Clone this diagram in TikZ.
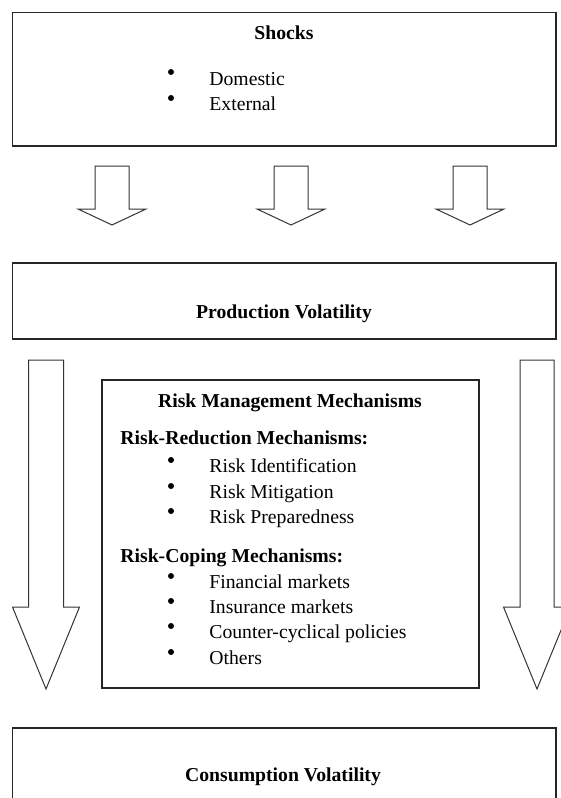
\documentclass[tikz,border=0pt]{standalone}
\usepackage{fontspec}
\setmainfont{Liberation Serif}
\begin{document}
\begin{tikzpicture}[x=0.5pt,y=-0.5pt,
  box/.style={draw=black!85, line width=0.8pt, inner sep=0pt},
  arrowline/.style={draw=black!80, line width=0.5pt, line join=miter},
  txt/.style={inner sep=0pt, yshift=-1pt, font=\fontsize{9.85}{12}\selectfont, text height=0.68em, text depth=0.2em},
  btxt/.style={txt, font=\fontsize{9.85}{12}\selectfont\bfseries},
  item/.style={txt, anchor=west},
  dot/.style={circle, fill=black, inner sep=0pt, minimum size=3pt}]
\useasboundingbox (0,0) rectangle (561,798);
\clip (0,0) rectangle (561,798);
\newcommand{\blockarr}[6]{%
  \draw[arrowline] (#1-#5,#2) -- (#1+#5,#2) -- (#1+#5,#3) -- (#1+#6,#3) -- (#1,#4) -- (#1-#6,#3) -- (#1-#5,#3) -- cycle;}

% boxes
\node[box, minimum width=543.5*0.5pt, minimum height=133.5*0.5pt] (shocks) at (284.25,79.25) {};
\node[box, minimum width=543.5*0.5pt, minimum height=76*0.5pt] (prod) at (284.25,301) {};
\node[box, minimum width=377*0.5pt, minimum height=308*0.5pt] (risk) at (290.5,534) {};
\node[box, minimum width=543.5*0.5pt, minimum height=100*0.5pt] (cons) at (284.25,778) {};

% shocks text
\node[btxt] (tshocks) at (284,33) {Shocks};
\node[dot] (b1) at (171,72) {};
\node[item] (dom) at (209,79) {Domestic};
\node[dot] (b2) at (171,98) {};
\node[item] (ext) at (209,104) {External};

% small arrows
\blockarr{112}{166}{209}{225}{17}{34}
\blockarr{291}{166}{209}{225}{17}{34}
\blockarr{470}{166}{209}{225}{17}{34}

\node[btxt] (tprod) at (284,312) {Production Volatility};

% big arrows
\blockarr{46}{360}{607}{689}{17.5}{33.5}
\blockarr{537}{360}{607}{689}{17}{33.5}

% risk box text
\node[btxt] (trm) at (290,401) {Risk Management Mechanisms};
\node[btxt, anchor=west] (trr) at (120,438) {Risk-Reduction Mechanisms:};
\node[dot] (b3) at (171,460) {};
\node[item] (r1) at (209,466) {Risk Identification};
\node[dot] (b4) at (171,486) {};
\node[item] (r2) at (209,492) {Risk Mitigation};
\node[dot] (b5) at (171,511) {};
\node[item] (r3) at (209,517) {Risk Preparedness};
\node[btxt, anchor=west] (trc) at (120,556) {Risk-Coping Mechanisms:};
\node[dot] (b6) at (171,576) {};
\node[item] (c1) at (209,582) {Financial markets};
\node[dot] (b7) at (171,601) {};
\node[item] (c2) at (209,607) {Insurance markets};
\node[dot] (b8) at (171,626) {};
\node[item] (c3) at (209,632) {Counter-cyclical policies};
\node[dot] (b9) at (171,652) {};
\node[item] (c4) at (209,658) {Others};

\node[btxt] (tcons) at (283,775) {Consumption Volatility};
\end{tikzpicture}
\end{document}
